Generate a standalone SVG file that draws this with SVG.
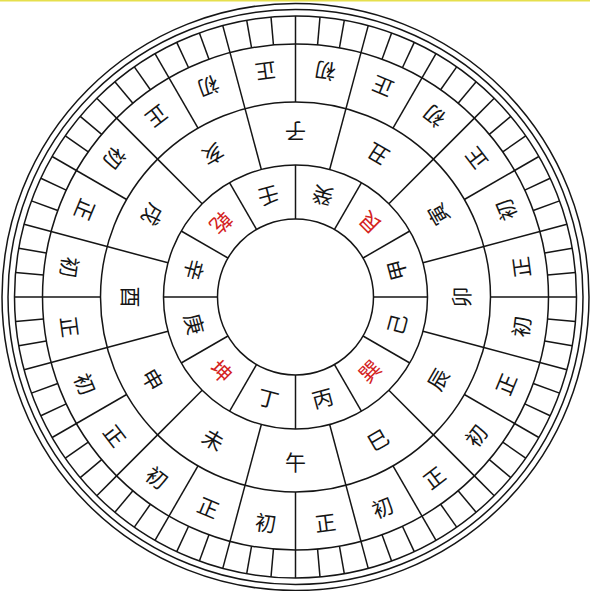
<svg xmlns="http://www.w3.org/2000/svg" width="590" height="591" viewBox="0 0 590 591">
<style>
.ring{fill:none;stroke:#151515;stroke-width:1.5}
.div line{stroke:#151515;stroke-width:1.5}
text{font-family:"Noto Sans CJK SC","Noto Sans CJK TC",sans-serif;font-size:21px;text-anchor:middle;dominant-baseline:central;fill:#151515}
text.red{fill:#d42222}
</style>
<rect x="0" y="0" width="590" height="591" fill="#ffffff"/>
<rect x="0" y="0" width="590" height="1.5" fill="#e6df4c"/>
<g id="rings">
<circle class="ring" cx="295.5" cy="297" r="78"/>
<circle class="ring" cx="295.5" cy="297" r="132"/>
<circle class="ring" cx="295.5" cy="297" r="195"/>
<circle class="ring" cx="295.5" cy="297" r="253"/>
<circle class="ring" cx="295.5" cy="297" r="281"/>
<circle class="ring" cx="295.5" cy="297" r="287.5"/>
<circle class="ring" cx="295.5" cy="297" r="293.5"/>
</g>
<g id="connectors" class="div">
<g id="stem-dividers">
<line x1="295.5" y1="219" x2="295.5" y2="165" transform="rotate(0 295.5 297)"/>
<line x1="295.5" y1="219" x2="295.5" y2="165" transform="rotate(30 295.5 297)"/>
<line x1="295.5" y1="219" x2="295.5" y2="165" transform="rotate(60 295.5 297)"/>
<line x1="295.5" y1="219" x2="295.5" y2="165" transform="rotate(90 295.5 297)"/>
<line x1="295.5" y1="219" x2="295.5" y2="165" transform="rotate(120 295.5 297)"/>
<line x1="295.5" y1="219" x2="295.5" y2="165" transform="rotate(150 295.5 297)"/>
<line x1="295.5" y1="219" x2="295.5" y2="165" transform="rotate(180 295.5 297)"/>
<line x1="295.5" y1="219" x2="295.5" y2="165" transform="rotate(210 295.5 297)"/>
<line x1="295.5" y1="219" x2="295.5" y2="165" transform="rotate(240 295.5 297)"/>
<line x1="295.5" y1="219" x2="295.5" y2="165" transform="rotate(270 295.5 297)"/>
<line x1="295.5" y1="219" x2="295.5" y2="165" transform="rotate(300 295.5 297)"/>
<line x1="295.5" y1="219" x2="295.5" y2="165" transform="rotate(330 295.5 297)"/>
</g>
<g id="branch-dividers">
<line x1="295.5" y1="165" x2="295.5" y2="102" transform="rotate(15 295.5 297)"/>
<line x1="295.5" y1="165" x2="295.5" y2="102" transform="rotate(45 295.5 297)"/>
<line x1="295.5" y1="165" x2="295.5" y2="102" transform="rotate(75 295.5 297)"/>
<line x1="295.5" y1="165" x2="295.5" y2="102" transform="rotate(105 295.5 297)"/>
<line x1="295.5" y1="165" x2="295.5" y2="102" transform="rotate(135 295.5 297)"/>
<line x1="295.5" y1="165" x2="295.5" y2="102" transform="rotate(165 295.5 297)"/>
<line x1="295.5" y1="165" x2="295.5" y2="102" transform="rotate(195 295.5 297)"/>
<line x1="295.5" y1="165" x2="295.5" y2="102" transform="rotate(225 295.5 297)"/>
<line x1="295.5" y1="165" x2="295.5" y2="102" transform="rotate(255 295.5 297)"/>
<line x1="295.5" y1="165" x2="295.5" y2="102" transform="rotate(285 295.5 297)"/>
<line x1="295.5" y1="165" x2="295.5" y2="102" transform="rotate(315 295.5 297)"/>
<line x1="295.5" y1="165" x2="295.5" y2="102" transform="rotate(345 295.5 297)"/>
</g>
<g id="half-dividers">
<line x1="295.5" y1="102" x2="295.5" y2="44" transform="rotate(0 295.5 297)"/>
<line x1="295.5" y1="102" x2="295.5" y2="44" transform="rotate(15 295.5 297)"/>
<line x1="295.5" y1="102" x2="295.5" y2="44" transform="rotate(30 295.5 297)"/>
<line x1="295.5" y1="102" x2="295.5" y2="44" transform="rotate(45 295.5 297)"/>
<line x1="295.5" y1="102" x2="295.5" y2="44" transform="rotate(60 295.5 297)"/>
<line x1="295.5" y1="102" x2="295.5" y2="44" transform="rotate(75 295.5 297)"/>
<line x1="295.5" y1="102" x2="295.5" y2="44" transform="rotate(90 295.5 297)"/>
<line x1="295.5" y1="102" x2="295.5" y2="44" transform="rotate(105 295.5 297)"/>
<line x1="295.5" y1="102" x2="295.5" y2="44" transform="rotate(120 295.5 297)"/>
<line x1="295.5" y1="102" x2="295.5" y2="44" transform="rotate(135 295.5 297)"/>
<line x1="295.5" y1="102" x2="295.5" y2="44" transform="rotate(150 295.5 297)"/>
<line x1="295.5" y1="102" x2="295.5" y2="44" transform="rotate(165 295.5 297)"/>
<line x1="295.5" y1="102" x2="295.5" y2="44" transform="rotate(180 295.5 297)"/>
<line x1="295.5" y1="102" x2="295.5" y2="44" transform="rotate(195 295.5 297)"/>
<line x1="295.5" y1="102" x2="295.5" y2="44" transform="rotate(210 295.5 297)"/>
<line x1="295.5" y1="102" x2="295.5" y2="44" transform="rotate(225 295.5 297)"/>
<line x1="295.5" y1="102" x2="295.5" y2="44" transform="rotate(240 295.5 297)"/>
<line x1="295.5" y1="102" x2="295.5" y2="44" transform="rotate(255 295.5 297)"/>
<line x1="295.5" y1="102" x2="295.5" y2="44" transform="rotate(270 295.5 297)"/>
<line x1="295.5" y1="102" x2="295.5" y2="44" transform="rotate(285 295.5 297)"/>
<line x1="295.5" y1="102" x2="295.5" y2="44" transform="rotate(300 295.5 297)"/>
<line x1="295.5" y1="102" x2="295.5" y2="44" transform="rotate(315 295.5 297)"/>
<line x1="295.5" y1="102" x2="295.5" y2="44" transform="rotate(330 295.5 297)"/>
<line x1="295.5" y1="102" x2="295.5" y2="44" transform="rotate(345 295.5 297)"/>
</g>
<g id="ticks">
<line x1="295.5" y1="44" x2="295.5" y2="16" transform="rotate(0 295.5 297)"/>
<line x1="295.5" y1="44" x2="295.5" y2="16" transform="rotate(5 295.5 297)"/>
<line x1="295.5" y1="44" x2="295.5" y2="16" transform="rotate(10 295.5 297)"/>
<line x1="295.5" y1="44" x2="295.5" y2="16" transform="rotate(15 295.5 297)"/>
<line x1="295.5" y1="44" x2="295.5" y2="16" transform="rotate(20 295.5 297)"/>
<line x1="295.5" y1="44" x2="295.5" y2="16" transform="rotate(25 295.5 297)"/>
<line x1="295.5" y1="44" x2="295.5" y2="16" transform="rotate(30 295.5 297)"/>
<line x1="295.5" y1="44" x2="295.5" y2="16" transform="rotate(35 295.5 297)"/>
<line x1="295.5" y1="44" x2="295.5" y2="16" transform="rotate(40 295.5 297)"/>
<line x1="295.5" y1="44" x2="295.5" y2="16" transform="rotate(45 295.5 297)"/>
<line x1="295.5" y1="44" x2="295.5" y2="16" transform="rotate(50 295.5 297)"/>
<line x1="295.5" y1="44" x2="295.5" y2="16" transform="rotate(55 295.5 297)"/>
<line x1="295.5" y1="44" x2="295.5" y2="16" transform="rotate(60 295.5 297)"/>
<line x1="295.5" y1="44" x2="295.5" y2="16" transform="rotate(65 295.5 297)"/>
<line x1="295.5" y1="44" x2="295.5" y2="16" transform="rotate(70 295.5 297)"/>
<line x1="295.5" y1="44" x2="295.5" y2="16" transform="rotate(75 295.5 297)"/>
<line x1="295.5" y1="44" x2="295.5" y2="16" transform="rotate(80 295.5 297)"/>
<line x1="295.5" y1="44" x2="295.5" y2="16" transform="rotate(85 295.5 297)"/>
<line x1="295.5" y1="44" x2="295.5" y2="16" transform="rotate(90 295.5 297)"/>
<line x1="295.5" y1="44" x2="295.5" y2="16" transform="rotate(95 295.5 297)"/>
<line x1="295.5" y1="44" x2="295.5" y2="16" transform="rotate(100 295.5 297)"/>
<line x1="295.5" y1="44" x2="295.5" y2="16" transform="rotate(105 295.5 297)"/>
<line x1="295.5" y1="44" x2="295.5" y2="16" transform="rotate(110 295.5 297)"/>
<line x1="295.5" y1="44" x2="295.5" y2="16" transform="rotate(115 295.5 297)"/>
<line x1="295.5" y1="44" x2="295.5" y2="16" transform="rotate(120 295.5 297)"/>
<line x1="295.5" y1="44" x2="295.5" y2="16" transform="rotate(125 295.5 297)"/>
<line x1="295.5" y1="44" x2="295.5" y2="16" transform="rotate(130 295.5 297)"/>
<line x1="295.5" y1="44" x2="295.5" y2="16" transform="rotate(135 295.5 297)"/>
<line x1="295.5" y1="44" x2="295.5" y2="16" transform="rotate(140 295.5 297)"/>
<line x1="295.5" y1="44" x2="295.5" y2="16" transform="rotate(145 295.5 297)"/>
<line x1="295.5" y1="44" x2="295.5" y2="16" transform="rotate(150 295.5 297)"/>
<line x1="295.5" y1="44" x2="295.5" y2="16" transform="rotate(155 295.5 297)"/>
<line x1="295.5" y1="44" x2="295.5" y2="16" transform="rotate(160 295.5 297)"/>
<line x1="295.5" y1="44" x2="295.5" y2="16" transform="rotate(165 295.5 297)"/>
<line x1="295.5" y1="44" x2="295.5" y2="16" transform="rotate(170 295.5 297)"/>
<line x1="295.5" y1="44" x2="295.5" y2="16" transform="rotate(175 295.5 297)"/>
<line x1="295.5" y1="44" x2="295.5" y2="16" transform="rotate(180 295.5 297)"/>
<line x1="295.5" y1="44" x2="295.5" y2="16" transform="rotate(185 295.5 297)"/>
<line x1="295.5" y1="44" x2="295.5" y2="16" transform="rotate(190 295.5 297)"/>
<line x1="295.5" y1="44" x2="295.5" y2="16" transform="rotate(195 295.5 297)"/>
<line x1="295.5" y1="44" x2="295.5" y2="16" transform="rotate(200 295.5 297)"/>
<line x1="295.5" y1="44" x2="295.5" y2="16" transform="rotate(205 295.5 297)"/>
<line x1="295.5" y1="44" x2="295.5" y2="16" transform="rotate(210 295.5 297)"/>
<line x1="295.5" y1="44" x2="295.5" y2="16" transform="rotate(215 295.5 297)"/>
<line x1="295.5" y1="44" x2="295.5" y2="16" transform="rotate(220 295.5 297)"/>
<line x1="295.5" y1="44" x2="295.5" y2="16" transform="rotate(225 295.5 297)"/>
<line x1="295.5" y1="44" x2="295.5" y2="16" transform="rotate(230 295.5 297)"/>
<line x1="295.5" y1="44" x2="295.5" y2="16" transform="rotate(235 295.5 297)"/>
<line x1="295.5" y1="44" x2="295.5" y2="16" transform="rotate(240 295.5 297)"/>
<line x1="295.5" y1="44" x2="295.5" y2="16" transform="rotate(245 295.5 297)"/>
<line x1="295.5" y1="44" x2="295.5" y2="16" transform="rotate(250 295.5 297)"/>
<line x1="295.5" y1="44" x2="295.5" y2="16" transform="rotate(255 295.5 297)"/>
<line x1="295.5" y1="44" x2="295.5" y2="16" transform="rotate(260 295.5 297)"/>
<line x1="295.5" y1="44" x2="295.5" y2="16" transform="rotate(265 295.5 297)"/>
<line x1="295.5" y1="44" x2="295.5" y2="16" transform="rotate(270 295.5 297)"/>
<line x1="295.5" y1="44" x2="295.5" y2="16" transform="rotate(275 295.5 297)"/>
<line x1="295.5" y1="44" x2="295.5" y2="16" transform="rotate(280 295.5 297)"/>
<line x1="295.5" y1="44" x2="295.5" y2="16" transform="rotate(285 295.5 297)"/>
<line x1="295.5" y1="44" x2="295.5" y2="16" transform="rotate(290 295.5 297)"/>
<line x1="295.5" y1="44" x2="295.5" y2="16" transform="rotate(295 295.5 297)"/>
<line x1="295.5" y1="44" x2="295.5" y2="16" transform="rotate(300 295.5 297)"/>
<line x1="295.5" y1="44" x2="295.5" y2="16" transform="rotate(305 295.5 297)"/>
<line x1="295.5" y1="44" x2="295.5" y2="16" transform="rotate(310 295.5 297)"/>
<line x1="295.5" y1="44" x2="295.5" y2="16" transform="rotate(315 295.5 297)"/>
<line x1="295.5" y1="44" x2="295.5" y2="16" transform="rotate(320 295.5 297)"/>
<line x1="295.5" y1="44" x2="295.5" y2="16" transform="rotate(325 295.5 297)"/>
<line x1="295.5" y1="44" x2="295.5" y2="16" transform="rotate(330 295.5 297)"/>
<line x1="295.5" y1="44" x2="295.5" y2="16" transform="rotate(335 295.5 297)"/>
<line x1="295.5" y1="44" x2="295.5" y2="16" transform="rotate(340 295.5 297)"/>
<line x1="295.5" y1="44" x2="295.5" y2="16" transform="rotate(345 295.5 297)"/>
<line x1="295.5" y1="44" x2="295.5" y2="16" transform="rotate(350 295.5 297)"/>
<line x1="295.5" y1="44" x2="295.5" y2="16" transform="rotate(355 295.5 297)"/>
</g>
</g>
<g id="stems">
<g id="stem-gui"><text transform="rotate(15 295.5 297) translate(295.5 193) rotate(180)">癸</text></g>
<g id="stem-gen"><text class="red" transform="rotate(45 295.5 297) translate(295.5 193) rotate(180)">艮</text></g>
<g id="stem-jia"><text transform="rotate(75 295.5 297) translate(295.5 193) rotate(180)">甲</text></g>
<g id="stem-yi"><text transform="rotate(105 295.5 297) translate(295.5 193) rotate(180)">己</text></g>
<g id="stem-xun"><text class="red" transform="rotate(135 295.5 297) translate(295.5 193) rotate(180)">巽</text></g>
<g id="stem-bing"><text transform="rotate(165 295.5 297) translate(295.5 193) rotate(180)">丙</text></g>
<g id="stem-ding"><text transform="rotate(195 295.5 297) translate(295.5 193) rotate(180)">丁</text></g>
<g id="stem-kun"><text class="red" transform="rotate(225 295.5 297) translate(295.5 193) rotate(180)">坤</text></g>
<g id="stem-geng"><text transform="rotate(255 295.5 297) translate(295.5 193) rotate(180)">庚</text></g>
<g id="stem-xin"><text transform="rotate(285 295.5 297) translate(295.5 193) rotate(180)">辛</text></g>
<g id="stem-qian"><text class="red" transform="rotate(315 295.5 297) translate(295.5 193) rotate(180)">乾</text></g>
<g id="stem-ren"><text transform="rotate(345 295.5 297) translate(295.5 193) rotate(180)">壬</text></g>
</g>
<g id="branches">
<g id="branch-zi"><text transform="rotate(0 295.5 297) translate(295.5 133) rotate(180)">子</text></g>
<g id="branch-chou"><text transform="rotate(30 295.5 297) translate(295.5 133) rotate(180)">丑</text></g>
<g id="branch-yin"><text transform="rotate(60 295.5 297) translate(295.5 133) rotate(180)">寅</text></g>
<g id="branch-mao"><text transform="rotate(90 295.5 297) translate(295.5 133) rotate(180)">卯</text></g>
<g id="branch-chen"><text transform="rotate(120 295.5 297) translate(295.5 133) rotate(180)">辰</text></g>
<g id="branch-si"><text transform="rotate(150 295.5 297) translate(295.5 133) rotate(180)">巳</text></g>
<g id="branch-wu"><text transform="rotate(180 295.5 297) translate(295.5 133) rotate(180)">午</text></g>
<g id="branch-wei"><text transform="rotate(210 295.5 297) translate(295.5 133) rotate(180)">未</text></g>
<g id="branch-shen"><text transform="rotate(240 295.5 297) translate(295.5 133) rotate(180)">申</text></g>
<g id="branch-you"><text transform="rotate(270 295.5 297) translate(295.5 133) rotate(180)">酉</text></g>
<g id="branch-xu"><text transform="rotate(300 295.5 297) translate(295.5 133) rotate(180)">戌</text></g>
<g id="branch-hai"><text transform="rotate(330 295.5 297) translate(295.5 133) rotate(180)">亥</text></g>
</g>
<g id="halves">
<g id="h00"><text transform="rotate(7.5 295.5 297) translate(295.5 70) rotate(180)">初</text></g>
<g id="h01"><text transform="rotate(22.5 295.5 297) translate(295.5 70) rotate(180)">正</text></g>
<g id="h02"><text transform="rotate(37.5 295.5 297) translate(295.5 70) rotate(180)">初</text></g>
<g id="h03"><text transform="rotate(52.5 295.5 297) translate(295.5 70) rotate(180)">正</text></g>
<g id="h04"><text transform="rotate(67.5 295.5 297) translate(295.5 70) rotate(180)">初</text></g>
<g id="h05"><text transform="rotate(82.5 295.5 297) translate(295.5 70) rotate(180)">正</text></g>
<g id="h06"><text transform="rotate(97.5 295.5 297) translate(295.5 70) rotate(180)">初</text></g>
<g id="h07"><text transform="rotate(112.5 295.5 297) translate(295.5 70) rotate(180)">正</text></g>
<g id="h08"><text transform="rotate(127.5 295.5 297) translate(295.5 70) rotate(180)">初</text></g>
<g id="h09"><text transform="rotate(142.5 295.5 297) translate(295.5 70) rotate(180)">正</text></g>
<g id="h10"><text transform="rotate(157.5 295.5 297) translate(295.5 70) rotate(180)">初</text></g>
<g id="h11"><text transform="rotate(172.5 295.5 297) translate(295.5 70) rotate(180)">正</text></g>
<g id="h12"><text transform="rotate(187.5 295.5 297) translate(295.5 70) rotate(180)">初</text></g>
<g id="h13"><text transform="rotate(202.5 295.5 297) translate(295.5 70) rotate(180)">正</text></g>
<g id="h14"><text transform="rotate(217.5 295.5 297) translate(295.5 70) rotate(180)">初</text></g>
<g id="h15"><text transform="rotate(232.5 295.5 297) translate(295.5 70) rotate(180)">正</text></g>
<g id="h16"><text transform="rotate(247.5 295.5 297) translate(295.5 70) rotate(180)">初</text></g>
<g id="h17"><text transform="rotate(262.5 295.5 297) translate(295.5 70) rotate(180)">正</text></g>
<g id="h18"><text transform="rotate(277.5 295.5 297) translate(295.5 70) rotate(180)">初</text></g>
<g id="h19"><text transform="rotate(292.5 295.5 297) translate(295.5 70) rotate(180)">正</text></g>
<g id="h20"><text transform="rotate(307.5 295.5 297) translate(295.5 70) rotate(180)">初</text></g>
<g id="h21"><text transform="rotate(322.5 295.5 297) translate(295.5 70) rotate(180)">正</text></g>
<g id="h22"><text transform="rotate(337.5 295.5 297) translate(295.5 70) rotate(180)">初</text></g>
<g id="h23"><text transform="rotate(352.5 295.5 297) translate(295.5 70) rotate(180)">正</text></g>
</g>
</svg>
